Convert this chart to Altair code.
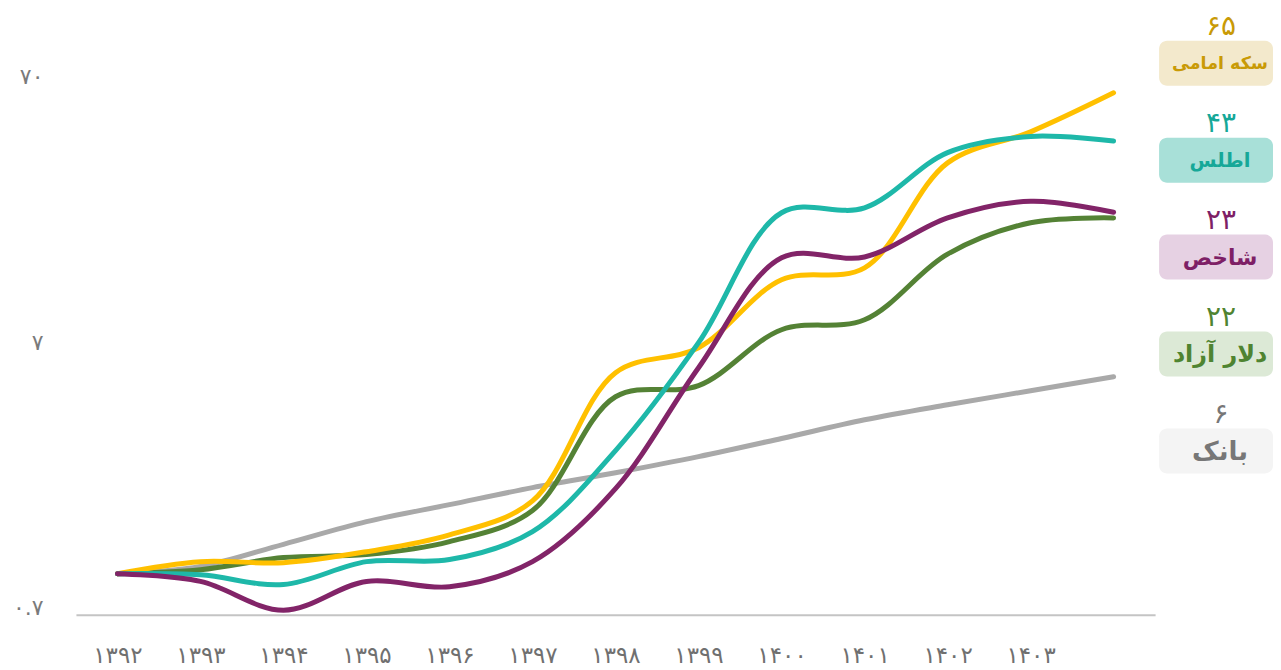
import altair as alt
import pandas as pd

# ---- data (values normalised to 1 in 1392) ----
years = list(range(1392, 1405))
gold = [1.00, 1.11, 1.10, 1.21, 1.40, 1.88, 5.72, 7.10, 12.8, 14.2, 35.3, 46.2, 64.8]
atlas = [1.00, 0.99, 0.91, 1.11, 1.13, 1.44, 2.91, 7.42, 22.9, 23.9, 38.6, 44.4, 42.7]
index = [1.00, 0.935, 0.728, 0.935, 0.893, 1.11, 2.09, 5.97, 15.5, 15.6, 21.9, 25.3, 23.0]
dollar = [1.00, 1.035, 1.15, 1.18, 1.32, 1.73, 4.64, 5.11, 8.30, 9.05, 16.0, 21.0, 21.9]
bank = [1.00, 1.065, 1.29, 1.57, 1.82, 2.11, 2.40, 2.76, 3.23, 3.80, 4.33, 4.89, 5.52]

x_tick_years = list(range(1392, 1404))
x_tick_labels = ["۱۳۹۲", "۱۳۹۳", "۱۳۹۴", "۱۳۹۵", "۱۳۹۶", "۱۳۹۷",
                 "۱۳۹۸", "۱۳۹۹", "۱۴۰۰", "۱۴۰۱", "۱۴۰۲", "۱۴۰۳"]
y_tick_values = [0.7, 7, 70]
y_tick_labels = ["۰.۷", "۷", "۷۰"]

names = ["سکه امامی", "اطلس", "شاخص", "دلار آزاد", "بانک"]
final_labels = ["۶۵", "۴۳", "۲۳", "۲۲", "۶"]

# ---- styles ----
series_keys = ["gold", "atlas", "index", "dollar", "bank"]
line_colors = ["#FFC000", "#1EB8A9", "#822468", "#548235", "#A9A9A9"]
text_colors = ["#C99A06", "#16A898", "#7E1F66", "#4F8431", "#777777"]
box_fills = ["#F3E9CC", "#A8E0D8", "#E6D1E3", "#DCE9D6", "#F4F4F4"]
name_sizes = [17.5, 26, 29, 19.5, 20]
FONT = "DejaVu Sans"

series_values = {"gold": gold, "atlas": atlas, "index": index,
                 "dollar": dollar, "bank": bank}
rows = []
for k in series_keys:
    for yr, v in zip(years, series_values[k]):
        rows.append({"series": k, "year": yr, "value": v})
df = pd.DataFrame(rows)


def ternary(vals, labels):
    expr = "''"
    for v, lab in reversed(list(zip(vals, labels))):
        expr = f"datum.value == {v} ? '{lab}' : ({expr})"
    return expr


x_enc = alt.X(
    "year:Q",
    scale=alt.Scale(domain=[1391.5, 1404.5], nice=False, zero=False),
    axis=alt.Axis(values=x_tick_years, labelExpr=ternary(x_tick_years, x_tick_labels),
                  grid=False, ticks=False, tickSize=0, domain=True,
                  domainColor="#C4C4C4", domainWidth=2,
                  labelFont=FONT, labelFontSize=23, labelColor="#707070",
                  labelBaseline="alphabetic", labelPadding=48,
                  labelFlush=False, labelOverlap=False, title=None),
)
y_enc = alt.Y(
    "value:Q",
    scale=alt.Scale(type="log", domain=[0.7, 135], nice=False),
    axis=alt.Axis(values=y_tick_values, labelExpr=ternary(y_tick_values, y_tick_labels),
                  grid=False, ticks=False, tickSize=0, domain=False,
                  labelFont=FONT, labelFontSize=22, labelColor="#7A7A7A",
                  labelBaseline="alphabetic", labelPadding=33, title=None),
)

draw_order = ["bank", "dollar", "gold", "atlas", "index"]
layers = []
for k in draw_order:
    c = line_colors[series_keys.index(k)]
    layers.append(
        alt.Chart(df).transform_filter(alt.datum.series == k)
        .mark_line(color=c, strokeWidth=5, strokeCap="round",
                   interpolate="catmull-rom")
        .encode(x=x_enc, y=y_enc)
    )
main = alt.layer(*layers).properties(width=1080, height=607)

side_df = pd.DataFrame({"name": names, "val": final_labels})
y_side = alt.Y("name:N", sort=names,
               scale=alt.Scale(type="band", paddingInner=0.536, paddingOuter=0.335),
               axis=None)
base = alt.Chart(side_df).encode(y=y_side)
boxes = base.mark_rect(cornerRadius=8).encode(
    fill=alt.Fill("name:N", scale=alt.Scale(domain=names, range=box_fills), legend=None)
)
name_text = base.mark_text(font=FONT, fontWeight="bold", baseline="middle", dy=1, dx=4).encode(
    text="name:N",
    color=alt.Color("name:N", scale=alt.Scale(domain=names, range=text_colors), legend=None),
    size=alt.Size("name:O", scale=alt.Scale(domain=names, range=name_sizes), legend=None),
)
val_text = base.mark_text(font=FONT, fontSize=28, baseline="alphabetic", dy=-28, dx=5).encode(
    text="val:N",
    color=alt.Color("name:N", scale=alt.Scale(domain=names, range=text_colors), legend=None),
)
side = alt.layer(boxes, name_text, val_text).properties(width=114, height=498)

chart = (
    alt.hconcat(main, side, spacing=4)
    .properties(padding={"left": 4, "top": 0, "right": 0, "bottom": 0})
    .configure_view(strokeWidth=0)
)
chart.save("out.html", embed_options={"renderer": "svg", "actions": False})
